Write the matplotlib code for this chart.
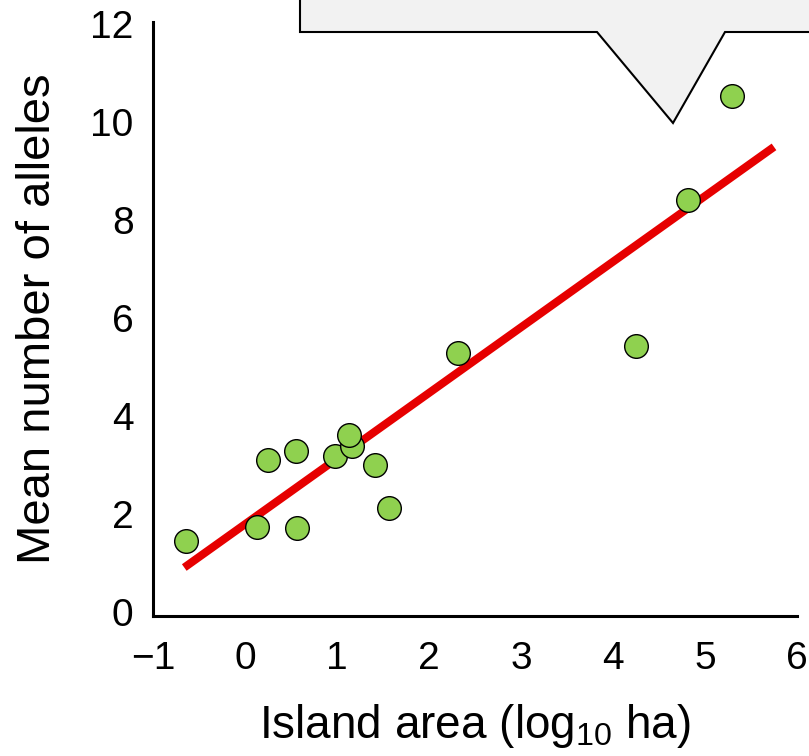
import matplotlib
matplotlib.use("Agg")
import matplotlib.pyplot as plt
from matplotlib.patches import Polygon

plt.rcParams['font.family'] = ['Liberation Sans', 'DejaVu Sans']
plt.rcParams['mathtext.default'] = 'regular'

# island area (log10 ha) vs mean number of alleles
area_log = [-0.64, 0.13, 0.25, 0.55, 0.56, 0.98, 1.16, 1.13, 1.41, 1.56, 2.31, 4.25, 4.81, 5.29]
alleles = [1.45, 1.73, 3.10, 3.29, 1.71, 3.18, 3.40, 3.61, 3.01, 2.12, 5.30, 5.44, 8.41, 10.53]

# regression line end points
fit_x = [-0.66, 5.75]
fit_y = [0.91, 9.50]

x_ticks = [-1, 0, 1, 2, 3, 4, 5, 6]
y_ticks = [0, 2, 4, 6, 8, 10, 12]

W, H = 809, 756
fig = plt.figure(figsize=(W / 100, H / 100), dpi=100)
ax = fig.add_axes([153 / W, 1 - 616 / H, (797 - 153) / W, (616 - 22) / H])

ax.plot(fit_x, fit_y, color='#e60000', lw=5.8, solid_capstyle='butt', zorder=2)
ax.scatter(area_log, alleles, s=290, color='#8fd14f', edgecolor='black', linewidth=1.0, zorder=3)

ax.set_xlim(-0.95, 6.0)
ax.set_ylim(-0.08, 12.05)
ax.set_xticks(x_ticks)
ax.set_yticks(y_ticks)
ax.set_xticklabels(['\u22121'] + [str(t) for t in x_ticks[1:]])
ax.tick_params(length=0, labelsize=28)
ax.tick_params(axis='x', pad=18)
ax.tick_params(axis='y', pad=14)

for side in ['top', 'right']:
    ax.spines[side].set_visible(False)
for side in ['left', 'bottom']:
    ax.spines[side].set_linewidth(2.2)

ax.set_xlabel('Island area (log$_{10}$ ha)', fontsize=33, labelpad=18)
ax.set_ylabel('Mean number of alleles', fontsize=34, labelpad=22)

# callout box at the top
callout = [(300, -5), (300, 32), (597, 32), (673, 123), (725, 32),
           (815, 32), (815, -5)]
pts = [(x / W, 1 - y / H) for x, y in callout]
fig.patches.append(Polygon(pts, closed=True, transform=fig.transFigure,
                           facecolor='#f2f2f2', edgecolor='black', lw=1.5, zorder=5))

fig.savefig('out.png', dpi=100)
